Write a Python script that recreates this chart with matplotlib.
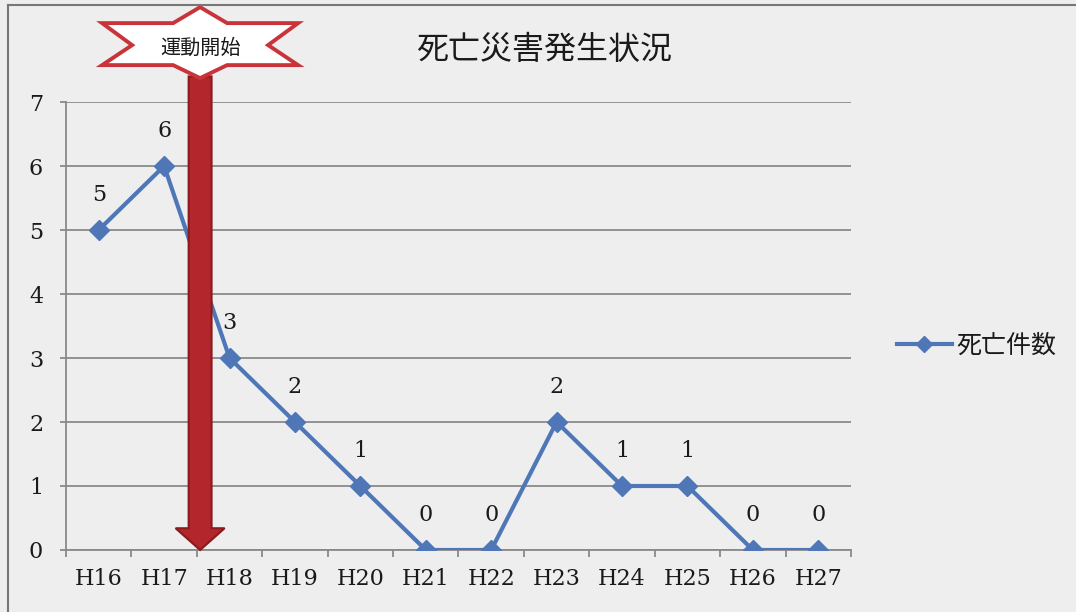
import matplotlib
matplotlib.use("Agg")
import matplotlib.pyplot as plt
import matplotlib.transforms as mtransforms
from matplotlib.patches import Polygon, FancyArrow
from matplotlib.lines import Line2D

# data
years = ["H16", "H17", "H18", "H19", "H20", "H21", "H22", "H23", "H24", "H25", "H26", "H27"]
deaths = [5, 6, 3, 2, 1, 0, 0, 2, 1, 1, 0, 0]
series_name = "死亡件数"
title = "死亡災害発生状況"
campaign_label = "運動開始"
campaign_pos = 1.55  # between H17 and H18

bg = "#eeeeee"
blue = "#4f77b8"
grid_col = "#8a8a8a"
txt_col = "#1a1a1a"
serif = ["DejaVu Serif"]
jp = ["Noto Sans CJK JP", "DejaVu Sans"]

fig = plt.figure(figsize=(10.76, 6.12), dpi=100, facecolor=bg)
ax = fig.add_axes([66 / 1076, 1 - 550 / 612, (851 - 66) / 1076, (550 - 102) / 612])
ax.set_facecolor(bg)

x = list(range(len(years)))
ax.plot(x, deaths, color=blue, lw=3, marker="D", markersize=10,
        markerfacecolor=blue, markeredgecolor=blue, zorder=4, label=series_name)

for xi, v in zip(x, deaths):
    ax.annotate(str(v), (xi, v), xytext=(0, 25), textcoords="offset points",
                ha="center", va="center", fontsize=16, family=serif, color=txt_col)

ax.set_xlim(-0.5, len(years) - 0.5)
ax.set_ylim(0, 7)
ax.set_yticks(range(0, 8))
ax.yaxis.grid(True, color=grid_col, lw=1.3)
ax.set_axisbelow(True)

# ticks at category boundaries, labels at centres
ax.set_xticks([i - 0.5 for i in range(len(years) + 1)])
ax.set_xticklabels([])
ax.set_xticks(x, minor=True)
ax.set_xticklabels(years, minor=True, fontsize=16, family=serif, color=txt_col)
ax.tick_params(axis="x", which="major", length=5, width=1.3, color=grid_col)
ax.tick_params(axis="x", which="minor", length=0, pad=13)
ax.tick_params(axis="y", length=4.5, width=1.3, color=grid_col, pad=12)
for lab in ax.get_yticklabels():
    lab.set_family(serif)
    lab.set_fontsize(16)
    lab.set_color(txt_col)

for s in ["top", "right"]:
    ax.spines[s].set_visible(False)
for s in ["left", "bottom"]:
    ax.spines[s].set_color(grid_col)
    ax.spines[s].set_linewidth(1.3)

# campaign arrow
arrow = FancyArrow(campaign_pos, 7.4, 0, -7.4, width=0.35, head_width=0.75,
                   head_length=0.34, length_includes_head=True,
                   fc="#b3272c", ec="#8a1a1c", lw=1.5, zorder=6, clip_on=False)
ax.add_patch(arrow)

# star banner above the arrow (shape offsets in pixels)
banner_px = [(0, 36), (27, 20), (98, 20), (68, -2), (98, -22), (27, -22), (0, -35),
             (-27, -22), (-98, -22), (-68, -2), (-98, 20), (-27, 20)]
banner_in = [(px / 100, py / 100) for px, py in banner_px]
trans = fig.dpi_scale_trans + mtransforms.ScaledTranslation(campaign_pos, 7.92, ax.transData)
ax.add_patch(Polygon(banner_in, closed=True, fc="white", ec="#c8343a", lw=2.8,
                     transform=trans, zorder=7, clip_on=False))
ax.text(0, -0.05, campaign_label, transform=trans, ha="center", va="center",
        fontsize=14.5, family=jp, color=txt_col, zorder=8)

fig.text(544 / 1076, 1 - 50 / 612, title, ha="center", va="center",
         fontsize=23, family=jp, color=txt_col)

leg = ax.legend(loc="center left", bbox_to_anchor=(874 / 1076, 1 - 346 / 612),
                bbox_transform=fig.transFigure, frameon=False, handlelength=2.2,
                handletextpad=0.2, markerscale=0.8, prop={"family": jp, "size": 18})
for t in leg.get_texts():
    t.set_color(txt_col)

# outer frame of the scanned chart
fig.add_artist(Line2D([8 / 1076, 8 / 1076], [0, 1 - 5 / 612], transform=fig.transFigure,
                      color="#777777", lw=1.5))
fig.add_artist(Line2D([8 / 1076, 1], [1 - 5 / 612, 1 - 5 / 612], transform=fig.transFigure,
                      color="#777777", lw=1.5))

fig.savefig("out.png", dpi=100, facecolor=bg)
